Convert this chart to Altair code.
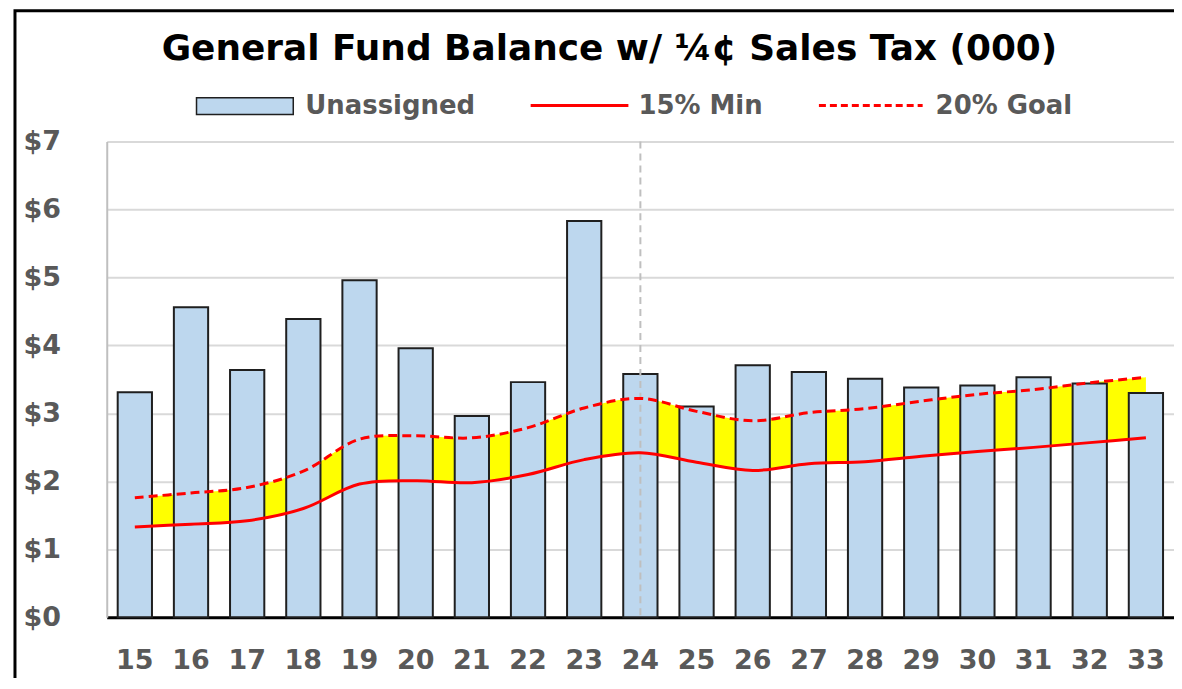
import altair as alt
import pandas as pd

years = ["15", "16", "17", "18", "19", "20", "21", "22", "23", "24",
         "25", "26", "27", "28", "29", "30", "31", "32", "33"]
unassigned = [3.31, 4.56, 3.64, 4.39, 4.96, 3.96, 2.96, 3.46, 5.83, 3.58,
              3.10, 3.71, 3.61, 3.51, 3.38, 3.41, 3.53, 3.44, 3.30]
min15 = [1.33, 1.37, 1.42, 1.60, 1.96, 2.01, 1.98, 2.10, 2.32, 2.42,
         2.28, 2.16, 2.26, 2.29, 2.37, 2.44, 2.50, 2.57, 2.64]
goal20 = [1.76, 1.83, 1.91, 2.15, 2.62, 2.67, 2.64, 2.79, 3.08, 3.22,
          3.03, 2.89, 3.01, 3.07, 3.18, 3.28, 3.35, 3.45, 3.53]
y_ticks = [0, 1, 2, 3, 4, 5, 6, 7]
marker_year = ["24"]
title_text = ["General Fund Balance w/ \u00bc\u00a2 Sales Tax (000)"]
legend_labels = ["Unassigned", "15% Min", "20% Goal"]

FONT = "DejaVu Sans"
GRAY = "#595959"
INTERP = "catmull-rom"

df = pd.DataFrame({"year": years, "unassigned": unassigned,
                   "min15": min15, "goal20": goal20})

xscale = alt.Scale(paddingInner=0.39, paddingOuter=0.195)
xenc = alt.X("year:N", sort=years, title=None, scale=xscale)
yscale = alt.Scale(domain=[0, 7], nice=False)

base = alt.Chart(df)

band = base.mark_area(color="#ffff00", interpolate=INTERP).encode(
    x=xenc,
    y=alt.Y("min15:Q", scale=yscale, title=None),
    y2="goal20:Q",
)

bars = base.mark_bar(fill="#bdd7ee", stroke="#1f1f1f", strokeWidth=2).encode(
    x=alt.X("year:N", sort=years, title=None, scale=xscale,
            axis=alt.Axis(labelAngle=0, labelAlign="center")),
    y=alt.Y("unassigned:Q", scale=yscale, title=None,
            axis=alt.Axis(values=y_ticks, labelExpr="'$' + datum.value")),
)

rule = alt.Chart(pd.DataFrame({"year": marker_year})).mark_rule(
    color="#bfbfbf", strokeWidth=2, strokeDash=[7, 5]
).encode(x=alt.X("year:N", sort=years, title=None))

line_min = base.mark_line(color="#ff0000", strokeWidth=3, interpolate=INTERP).encode(
    x=xenc, y=alt.Y("min15:Q", scale=yscale, title=None))

line_goal = base.mark_line(color="#ff0000", strokeWidth=3, strokeDash=[9, 5],
                           interpolate=INTERP).encode(
    x=xenc, y=alt.Y("goal20:Q", scale=yscale, title=None))

one = pd.DataFrame({"t": title_text})

title = alt.Chart(one).mark_text(
    font=FONT, fontSize=36, fontWeight="bold", color="black",
    align="center", baseline="middle"
).encode(text="t:N", x=alt.value(504), y=alt.value(-93))

frame = alt.Chart(one).mark_rect(fill="transparent", stroke="black", strokeWidth=3).encode(
    x=alt.value(-92), x2=alt.value(1200), y=alt.value(-131), y2=alt.value(700))

leg_rect = alt.Chart(one).mark_rect(fill="#bdd7ee", stroke="#1f1f1f", strokeWidth=1.5).encode(
    x=alt.value(90), x2=alt.value(187), y=alt.value(-44), y2=alt.value(-27))
leg_line1 = alt.Chart(one).mark_rule(color="#ff0000", strokeWidth=3).encode(
    x=alt.value(425), x2=alt.value(523), y=alt.value(-36))
leg_line2 = alt.Chart(one).mark_rule(color="#ff0000", strokeWidth=3, strokeDash=[7, 4]).encode(
    x=alt.value(714), x2=alt.value(818), y=alt.value(-36))


def leg_text(label, xpos):
    return alt.Chart(pd.DataFrame({"t": [label]})).mark_text(
        font=FONT, fontSize=26, fontWeight="bold", color=GRAY,
        align="left", baseline="middle"
    ).encode(text="t:N", x=alt.value(xpos), y=alt.value(-36))


chart = alt.layer(
    band, bars, rule, line_min, line_goal,
    title, frame,
    leg_rect, leg_line1, leg_line2,
    leg_text(legend_labels[0], 199),
    leg_text(legend_labels[1], 533),
    leg_text(legend_labels[2], 831),
).properties(
    width=1070, height=477,
    autosize=alt.AutoSizeParams(type="none"),
    padding={"left": 99, "top": 133, "right": 0, "bottom": 60},
).configure_view(stroke=None).configure_axis(
    labelFont=FONT, labelFontWeight="bold", labelColor=GRAY, labelFontSize=27,
).configure_axisX(
    grid=False, ticks=False, domainColor="black", domainWidth=3,
    labelBaseline="middle", labelPadding=43, zindex=1, labelAlign="center",
).configure_axisY(
    grid=True, gridColor="#d9d9d9", gridWidth=2, ticks=False,
    domainColor="#bfbfbf", domainWidth=2,
    labelAlign="left", labelPadding=84, labelBaseline="middle",
)

chart.save("out.html", embed_options={"renderer": "svg", "actions": False})
